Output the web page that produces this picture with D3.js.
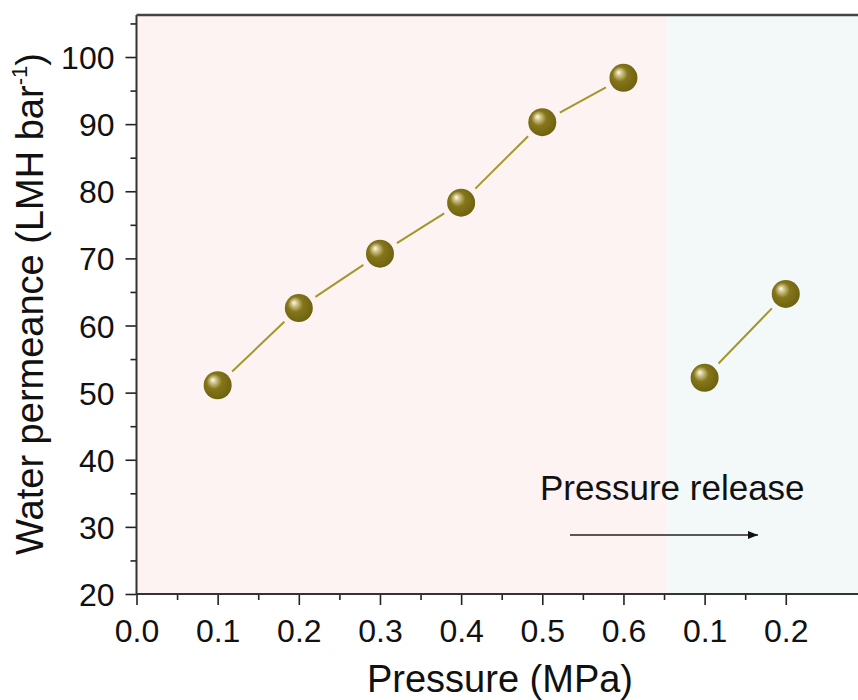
<!DOCTYPE html>
<html>
<head>
<meta charset="utf-8">
<script src="https://cdn.jsdelivr.net/npm/d3@7"></script>
<style>
  body { margin: 0; background: #fff; }
  svg { display: block; font-family: "Liberation Sans", Arial, sans-serif; }
</style>
</head>
<body>
<div id="chart"></div>
<script>
// loading stage: pressure raised step by step
const loadPressure = [0.1, 0.2, 0.3, 0.4, 0.5, 0.6];
const loadPermeance = [51.1, 62.6, 70.7, 78.3, 90.3, 96.9];
// release stage: pressure dropped back
const releasePressure = [0.1, 0.2];
const releasePermeance = [52.2, 64.7];

const xTickLabels = ["0.0", "0.1", "0.2", "0.3", "0.4", "0.5", "0.6", "0.1", "0.2"];
const yTicks = [20, 30, 40, 50, 60, 70, 80, 90, 100];

const width = 858;
const height = 700;
const marginTop = 15;
const marginLeft = 136.5;
const marginBottom = 106;

// release points sit after the last loading pressure on the same axis
const offset = d3.max(loadPressure);
const loadData = loadPressure.map((p, i) => ({ x: p, y: loadPermeance[i] }));
const releaseData = releasePressure.map((p, i) => ({ x: offset + p, y: releasePermeance[i] }));

const x = d3.scaleLinear()
  .domain([0, 0.889])
  .range([marginLeft, width]);

const y = d3.scaleLinear()
  .domain([20, 106.26])
  .range([height - marginBottom, marginTop]);

const svg = d3.select("#chart")
  .append("svg")
  .attr("width", width)
  .attr("height", height)
  .attr("viewBox", [0, 0, width, height]);

const defs = svg.append("defs");
const grad = defs.append("radialGradient")
  .attr("id", "ball")
  .attr("cx", "45%").attr("cy", "45%").attr("r", "60%")
  .attr("fx", "32%").attr("fy", "30%");
grad.append("stop").attr("offset", "0%").attr("stop-color", "#fffbea");
grad.append("stop").attr("offset", "18%").attr("stop-color", "#cfc38a");
grad.append("stop").attr("offset", "45%").attr("stop-color", "#85761a");
grad.append("stop").attr("offset", "100%").attr("stop-color", "#6c600e");

// shaded stages
svg.append("rect")
  .attr("x", x(0)).attr("y", y.range()[1])
  .attr("width", x(0.654) - x(0))
  .attr("height", y.range()[0] - y.range()[1])
  .attr("fill", "#fdf3f2");
svg.append("rect")
  .attr("x", x(0.654)).attr("y", y.range()[1])
  .attr("width", width - x(0.654))
  .attr("height", y.range()[0] - y.range()[1])
  .attr("fill", "#f3f8f8");

// axes
const xAxis = svg.append("g")
  .attr("transform", `translate(0,${y.range()[0]})`)
  .call(d3.axisBottom(x)
    .tickValues(d3.range(0, 0.85, 0.05))
    .tickSize(6)
    .tickFormat(""));
xAxis.selectAll(".tick line")
  .attr("y2", (d, i) => i % 2 === 0 ? 11 : 6);
xAxis.selectAll(".tick").filter((d, i) => i % 2 === 0)
  .append("text")
  .attr("y", 48)
  .attr("fill", "#111")
  .attr("font-size", 32)
  .attr("text-anchor", "middle")
  .text((d, i) => xTickLabels[Math.round(d * 10)]);

const yAxis = svg.append("g")
  .attr("transform", `translate(${marginLeft},0)`)
  .call(d3.axisLeft(y)
    .tickValues(d3.range(20, 106, 5))
    .tickSize(6)
    .tickFormat(""));
yAxis.selectAll(".tick line")
  .attr("x2", d => yTicks.includes(d) ? -11 : -6);
yAxis.selectAll(".tick").filter(d => yTicks.includes(d))
  .append("text")
  .attr("x", -22)
  .attr("dy", "0.36em")
  .attr("fill", "#111")
  .attr("font-size", 32)
  .attr("text-anchor", "end")
  .text(d => d);

svg.selectAll(".domain").remove();
svg.selectAll(".tick line").attr("stroke", "#222").attr("stroke-width", 1.6);

svg.append("line")
  .attr("x1", marginLeft).attr("x2", marginLeft)
  .attr("y1", y.range()[1]).attr("y2", y.range()[0] + 0.8)
  .attr("stroke", "#333").attr("stroke-width", 2);
svg.append("line")
  .attr("x1", marginLeft).attr("x2", width)
  .attr("y1", y.range()[0]).attr("y2", y.range()[0])
  .attr("stroke", "#333").attr("stroke-width", 2);
svg.append("line")
  .attr("x1", marginLeft).attr("x2", width)
  .attr("y1", y.range()[1]).attr("y2", y.range()[1])
  .attr("stroke", "#444").attr("stroke-width", 2.5);

// connecting segments with gaps near the balls
function segments(data) {
  const out = [];
  for (let i = 0; i < data.length - 1; i++) {
    const x1 = x(data[i].x), y1 = y(data[i].y);
    const x2 = x(data[i + 1].x), y2 = y(data[i + 1].y);
    const len = Math.hypot(x2 - x1, y2 - y1);
    const ux = (x2 - x1) / len, uy = (y2 - y1) / len;
    const gap = 20;
    out.push([x1 + ux * gap, y1 + uy * gap, x2 - ux * gap, y2 - uy * gap]);
  }
  return out;
}

svg.append("g")
  .attr("stroke", "#a3972a")
  .attr("stroke-width", 2)
  .selectAll("line")
  .data(segments(loadData).concat(segments(releaseData)))
  .join("line")
  .attr("x1", d => d[0]).attr("y1", d => d[1])
  .attr("x2", d => d[2]).attr("y2", d => d[3]);

svg.append("g")
  .selectAll("circle")
  .data(loadData.concat(releaseData))
  .join("circle")
  .attr("cx", d => x(d.x))
  .attr("cy", d => y(d.y))
  .attr("r", 14)
  .attr("fill", "url(#ball)");

// annotation
svg.append("text")
  .attr("x", 540).attr("y", 500)
  .attr("font-size", 35)
  .attr("fill", "#111")
  .text("Pressure release");

defs.append("marker")
  .attr("id", "arrow")
  .attr("viewBox", "0 0 10 10")
  .attr("refX", 10).attr("refY", 5)
  .attr("markerWidth", 10).attr("markerHeight", 10)
  .attr("markerUnits", "userSpaceOnUse")
  .attr("orient", "auto")
  .append("path")
  .attr("d", "M0,1 L10,5 L0,9 Z")
  .attr("fill", "#111");

svg.append("line")
  .attr("x1", 570).attr("x2", 758)
  .attr("y1", 535).attr("y2", 535)
  .attr("stroke", "#222").attr("stroke-width", 1.5)
  .attr("marker-end", "url(#arrow)");

// axis titles
svg.append("text")
  .attr("x", 500).attr("y", 692)
  .attr("text-anchor", "middle")
  .attr("font-size", 38)
  .attr("fill", "#111")
  .text("Pressure (MPa)");

const yTitle = svg.append("text")
  .attr("transform", "translate(43,304) rotate(-90)")
  .attr("text-anchor", "middle")
  .attr("font-size", 38)
  .attr("fill", "#111");
yTitle.append("tspan").text("Water permeance (LMH bar");
yTitle.append("tspan").attr("font-size", 22).attr("dy", -16).text("-1");
yTitle.append("tspan").attr("dy", 16).text(")");
</script>
</body>
</html>
